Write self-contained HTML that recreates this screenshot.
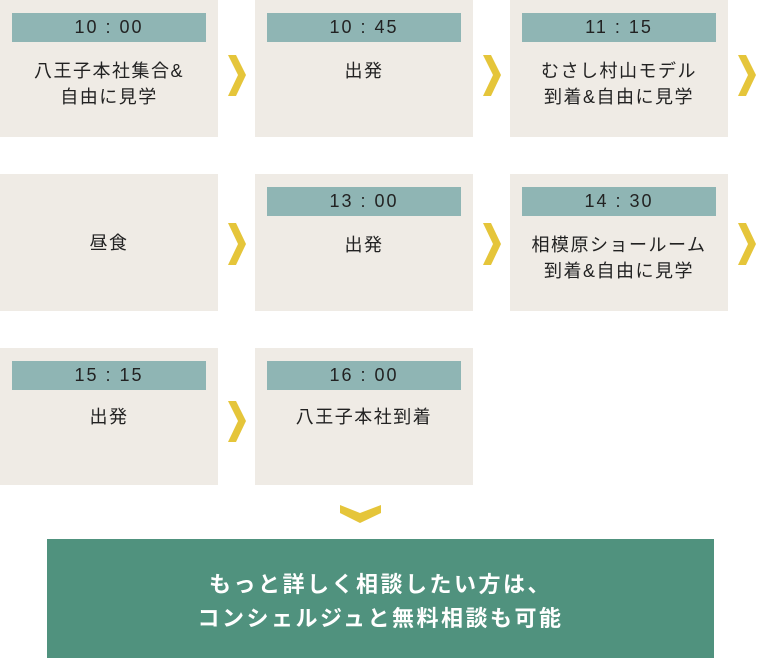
<!DOCTYPE html>
<html><head><meta charset="utf-8"><style>
body{margin:0;width:761px;height:658px;background:#fff;position:relative;overflow:hidden;font-family:"Liberation Sans","Noto Sans CJK JP",sans-serif;}
.b{position:absolute;width:218px;height:137px;background:#efebe5;}
.t{position:absolute;left:12px;top:13px;width:194px;height:29px;background:#8fb5b4;color:#222;font-size:18px;line-height:29px;text-align:center;letter-spacing:2px;}
.x{position:absolute;left:0;width:218px;text-align:center;font-size:18px;line-height:26px;color:#222;letter-spacing:1.5px;}
.g{position:absolute;left:47px;top:539px;width:667px;height:119px;background:#50927e;color:#fff;font-weight:bold;font-size:22px;line-height:34px;text-align:center;letter-spacing:2.5px;box-sizing:border-box;padding-top:29px;}
</style></head><body>
<div class="b" style="left:0;top:0"><div class="t">10 : 00</div><div class="x" style="top:58px">八王子本社集合&amp;<br>自由に見学</div></div>
<div class="b" style="left:255px;top:0"><div class="t">10 : 45</div><div class="x" style="top:58px">出発</div></div>
<div class="b" style="left:510px;top:0"><div class="t">11 : 15</div><div class="x" style="top:58px">むさし村山モデル<br>到着&amp;自由に見学</div></div>
<div class="b" style="left:0;top:174px"><div class="x" style="top:56px">昼食</div></div>
<div class="b" style="left:255px;top:174px"><div class="t">13 : 00</div><div class="x" style="top:58px">出発</div></div>
<div class="b" style="left:510px;top:174px"><div class="t">14 : 30</div><div class="x" style="top:58px">相模原ショールーム<br>到着&amp;自由に見学</div></div>
<div class="b" style="left:0;top:348px"><div class="t">15 : 15</div><div class="x" style="top:56px">出発</div></div>
<div class="b" style="left:255px;top:348px"><div class="t">16 : 00</div><div class="x" style="top:56px">八王子本社到着</div></div>
<svg width="761" height="658" style="position:absolute;left:0;top:0">
<g fill="#e5c53a">
<polygon points="228,55 236,55 246,75 236,96 228,96 238,75"/>
<polygon points="483,55 491,55 501,75 491,96 483,96 493,75"/>
<polygon points="738,55 746,55 756,75 746,96 738,96 748,75"/>
<polygon points="228,223 236,223 246,244 236,265 228,265 238,244"/>
<polygon points="483,223 491,223 501,244 491,265 483,265 493,244"/>
<polygon points="738,223 746,223 756,244 746,265 738,265 748,244"/>
<polygon points="228,401 236,401 246,421 236,442 228,442 238,421"/>
<polygon points="340,505 360,513 381,505 381,513 360,523 340,513"/>
</g></svg>
<div class="g">もっと詳しく相談したい方は、<br>コンシェルジュと無料相談も可能</div>
</body></html>
